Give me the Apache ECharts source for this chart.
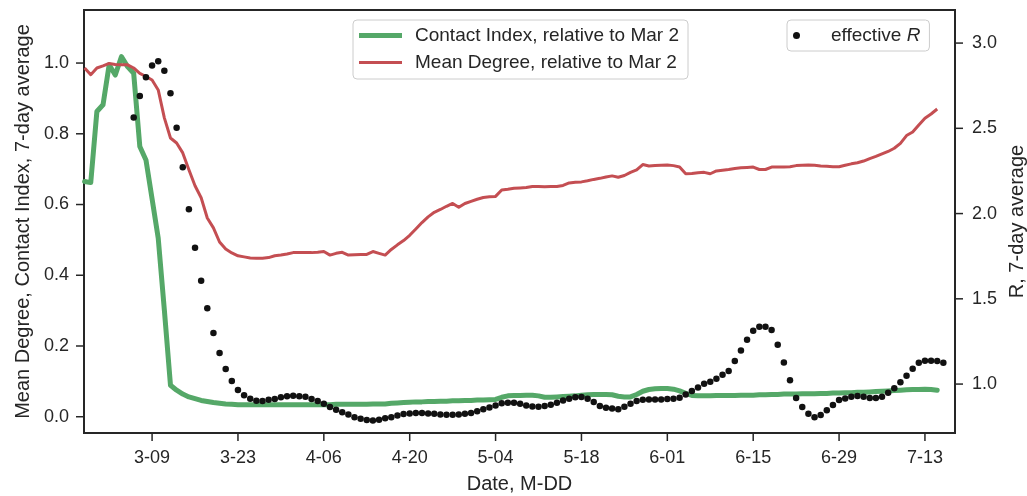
<!DOCTYPE html>
<html>
<head>
<meta charset="utf-8">
<script src="https://cdn.jsdelivr.net/npm/echarts@6/dist/echarts.min.js"></script>
<style>
  html, body { margin: 0; padding: 0; background: #fff; }
  #chart { width: 1027px; height: 496px; background: #fff; }
</style>
</head>
<body>
<div id="chart"></div>
<script>
// days are counted from Mar 9 (day 0)
var contactStart = -11
var contactIndex = [
  0.665, 0.662, 0.863, 0.882, 0.995, 0.966, 1.018, 0.990, 0.971, 0.764, 0.726,
  0.616, 0.505, 0.302, 0.089, 0.075, 0.064, 0.056, 0.051, 0.046, 0.043, 0.040,
  0.038, 0.036, 0.035, 0.034, 0.034, 0.034, 0.034, 0.034, 0.034, 0.034, 0.034,
  0.034, 0.034, 0.034, 0.034, 0.034, 0.034, 0.034, 0.034, 0.035, 0.035, 0.035,
  0.035, 0.035, 0.035, 0.036, 0.036, 0.036, 0.038, 0.039, 0.040, 0.041, 0.042,
  0.042, 0.043, 0.043, 0.044, 0.044, 0.045, 0.045, 0.046, 0.046, 0.047, 0.047,
  0.048, 0.049, 0.055, 0.059, 0.060, 0.060, 0.061, 0.061, 0.059, 0.055, 0.055,
  0.056, 0.057, 0.058, 0.059, 0.061, 0.062, 0.063, 0.063, 0.063, 0.062, 0.058,
  0.056, 0.056, 0.063, 0.072, 0.077, 0.079, 0.080, 0.080, 0.078, 0.073, 0.066,
  0.060, 0.059, 0.059, 0.059, 0.060, 0.060, 0.060, 0.060, 0.061, 0.061, 0.061,
  0.062, 0.062, 0.063, 0.063, 0.064, 0.064, 0.064, 0.065, 0.065, 0.065, 0.066,
  0.066, 0.067, 0.067, 0.068, 0.068, 0.069, 0.069, 0.070, 0.071, 0.072, 0.073,
  0.074, 0.075, 0.076, 0.077, 0.077, 0.078, 0.077, 0.075
]

var degreeStart = -11
var meanDegree = [
  0.986, 0.967, 0.986, 0.992, 0.999, 0.996, 0.995, 0.995, 0.986, 0.971, 0.962,
  0.952, 0.924, 0.845, 0.788, 0.774, 0.746, 0.698, 0.653, 0.619, 0.562, 0.534,
  0.494, 0.474, 0.463, 0.455, 0.452, 0.449, 0.448, 0.448, 0.450, 0.455, 0.457,
  0.460, 0.464, 0.464, 0.464, 0.464, 0.465, 0.467, 0.457, 0.462, 0.465, 0.457,
  0.458, 0.459, 0.459, 0.467, 0.462, 0.457, 0.473, 0.486, 0.498, 0.513, 0.531,
  0.549, 0.565, 0.578, 0.586, 0.595, 0.603, 0.592, 0.603, 0.609, 0.615, 0.620,
  0.622, 0.623, 0.641, 0.643, 0.646, 0.647, 0.648, 0.651, 0.651, 0.650, 0.651,
  0.651, 0.654, 0.661, 0.663, 0.664, 0.667, 0.671, 0.674, 0.678, 0.681, 0.677,
  0.682, 0.691, 0.698, 0.713, 0.709, 0.710, 0.711, 0.712, 0.710, 0.706, 0.687,
  0.688, 0.690, 0.691, 0.687, 0.695, 0.697, 0.699, 0.702, 0.704, 0.705, 0.706,
  0.699, 0.699, 0.706, 0.706, 0.706, 0.707, 0.710, 0.711, 0.712, 0.711, 0.709,
  0.708, 0.707, 0.707, 0.711, 0.715, 0.718, 0.723, 0.730, 0.736, 0.743, 0.750,
  0.759, 0.773, 0.795, 0.805, 0.825, 0.844, 0.856, 0.870
]

var rStart = -3
var effectiveR = [
  2.564, 2.689, 2.799, 2.869, 2.893, 2.838, 2.705, 2.503, 2.271, 2.026, 1.800,
  1.606, 1.444, 1.299, 1.182, 1.088, 1.018, 0.965, 0.934, 0.914, 0.902, 0.901,
  0.908, 0.912, 0.923, 0.929, 0.931, 0.929, 0.925, 0.913, 0.901, 0.884, 0.865,
  0.849, 0.834, 0.822, 0.806, 0.797, 0.789, 0.787, 0.791, 0.799, 0.806, 0.816,
  0.824, 0.828, 0.830, 0.830, 0.828, 0.826, 0.822, 0.820, 0.820, 0.822, 0.826,
  0.830, 0.840, 0.853, 0.863, 0.875, 0.887, 0.891, 0.891, 0.885, 0.875, 0.869,
  0.867, 0.871, 0.879, 0.891, 0.904, 0.914, 0.922, 0.924, 0.914, 0.895, 0.871,
  0.861, 0.857, 0.853, 0.867, 0.885, 0.900, 0.908, 0.910, 0.910, 0.910, 0.912,
  0.914, 0.920, 0.939, 0.959, 0.980, 1.002, 1.014, 1.031, 1.055, 1.076, 1.135,
  1.197, 1.260, 1.313, 1.336, 1.336, 1.317, 1.231, 1.127, 1.022, 0.918, 0.865,
  0.826, 0.805, 0.818, 0.846, 0.877, 0.906, 0.916, 0.926, 0.930, 0.926, 0.918,
  0.918, 0.926, 0.949, 0.975, 1.010, 1.049, 1.090, 1.125, 1.137, 1.137, 1.135,
  1.125
]

var dateTicks = [0, 14, 28, 42, 56, 70, 84, 98, 112, 126]
var dateLabels = ['3-09', '3-23', '4-06', '4-20', '5-04', '5-18', '6-01', '6-15', '6-29', '7-13']
var leftTicks = [0, 0.2, 0.4, 0.6, 0.8, 1.0]
var rightTicks = [1.0, 1.5, 2.0, 2.5, 3.0]

var xMin = -11.1, xMax = 130.9
var leftMin = -0.046, leftMax = 1.150
var rightMin = 0.713, rightMax = 3.194

function pairs(start, arr) {
  return arr.map(function(v, i) { return [start + i, v] })
}

var ink = '#262626'
var font = "'Liberation Sans', Arial, sans-serif"
// legend strokes: thick green, thinner red (empty moves keep the 43x6 box)
var thickIcon = 'path://M0,0.5 L43,0.5 L43,5.5 L0,5.5 Z'
var thinIcon = 'path://M0,0 M43,6 M0,1.5 L43,1.5 L43,4.5 L0,4.5 Z'

var chart = echarts.init(document.getElementById('chart'))
chart.setOption({
  animation: false,
  textStyle: { fontFamily: font, color: ink },
  grid: {
    left: 84, right: 72, top: 10, bottom: 63,
    outerBoundsMode: 'none',
    show: true, borderColor: ink, borderWidth: 2
  },
  legend: [{
    orient: 'vertical',
    left: 353, top: 20,
    padding: [6, 9, 7, 6],
    itemGap: 8,
    itemWidth: 43, itemHeight: 6,
    itemStyle: { borderWidth: 0 },
    borderColor: '#cccccc', borderWidth: 1, borderRadius: 4,
    backgroundColor: 'rgba(255,255,255,0.8)',
    textStyle: { fontSize: 19, color: ink, fontFamily: font, padding: [0, 0, 0, 8] },
    data: [
      { name: 'Contact Index, relative to Mar 2', icon: thickIcon },
      { name: 'Mean Degree, relative to Mar 2', icon: thinIcon }
    ]
  }, {
    left: 787, top: 20,
    padding: [6, 9, 6, 6],
    itemWidth: 41, itemHeight: 7,
    borderColor: '#cccccc', borderWidth: 1, borderRadius: 4,
    backgroundColor: 'rgba(255,255,255,0.8)',
    formatter: function() { return '{a|effective }{b|R}' },
    textStyle: {
      fontSize: 19, color: ink, fontFamily: font, padding: [0, 0, 0, 9],
      rich: {
        a: { fontSize: 19, color: ink, fontFamily: font },
        b: { fontSize: 19, color: ink, fontFamily: font, fontStyle: 'italic' }
      }
    },
    data: ['effective R']
  }],
  xAxis: {
    type: 'value',
    min: xMin, max: xMax,
    name: 'Date, M-DD',
    nameLocation: 'middle',
    nameGap: 41,
    nameTextStyle: { fontSize: 20, color: ink },
    axisLine: { onZero: false, lineStyle: { color: ink, width: 2 } },
    axisTick: { show: false },
    axisLabel: {
      fontSize: 18, color: ink, margin: 16,
      customValues: dateTicks,
      formatter: function(v) {
        var i = dateTicks.indexOf(v)
        return i >= 0 ? dateLabels[i] : ''
      }
    },
    splitLine: { show: false }
  },
  yAxis: [{
    type: 'value',
    position: 'left',
    min: leftMin, max: leftMax,
    name: 'Mean Degree, Contact Index, 7-day average',
    nameLocation: 'middle',
    nameRotate: 90,
    nameGap: 49,
    nameTextStyle: { fontSize: 20, color: ink },
    axisLine: { show: true, onZero: false, lineStyle: { color: ink, width: 2 } },
    axisTick: { show: false },
    axisLabel: {
      fontSize: 18, color: ink, margin: 15,
      customValues: leftTicks,
      formatter: function(v) { return v.toFixed(1) }
    },
    splitLine: { show: false }
  }, {
    type: 'value',
    position: 'right',
    min: rightMin, max: rightMax,
    name: 'R, 7-day average',
    nameLocation: 'middle',
    nameRotate: 90,
    nameGap: 51,
    nameTextStyle: { fontSize: 20, color: ink },
    axisLine: { show: true, onZero: false, lineStyle: { color: ink, width: 2 } },
    axisTick: { show: false },
    axisLabel: {
      fontSize: 18, color: ink, margin: 17,
      customValues: rightTicks,
      formatter: function(v) { return v.toFixed(1) }
    },
    splitLine: { show: false }
  }],
  series: [{
    name: 'Contact Index, relative to Mar 2',
    type: 'line',
    yAxisIndex: 0,
    data: pairs(contactStart, contactIndex),
    symbol: 'none',
    color: '#55a868',
    lineStyle: { width: 5, cap: 'round', join: 'round', color: '#55a868' },
    z: 2
  }, {
    name: 'Mean Degree, relative to Mar 2',
    type: 'line',
    yAxisIndex: 0,
    data: pairs(degreeStart, meanDegree),
    symbol: 'none',
    color: '#c44e52',
    lineStyle: { width: 3, join: 'round', color: '#c44e52' },
    z: 3
  }, {
    name: 'effective R',
    type: 'scatter',
    yAxisIndex: 1,
    data: pairs(rStart, effectiveR),
    symbolSize: 6.5,
    color: '#111111',
    itemStyle: { color: '#111111', opacity: 1 },
    z: 4
  }]
})

// outward tick marks, placed through the series' coordinate systems
// (series 0 uses the left axis, series 2 the right one)
function tickMarks() {
  var els = []
  var len = 8
  function px(seriesIndex, x, y) {
    return chart.convertToPixel({ seriesIndex: seriesIndex }, [x, y])
  }
  function seg(x1, y1, x2, y2) {
    els.push({
      type: 'line', z: 100, silent: true,
      shape: { x1: x1, y1: y1, x2: x2, y2: y2 },
      style: { stroke: ink, lineWidth: 1.5 }
    })
  }
  dateTicks.forEach(function(v) {
    var p = px(0, v, leftMin)
    seg(p[0], p[1], p[0], p[1] + len)
  })
  leftTicks.forEach(function(v) {
    var p = px(0, xMin, v)
    seg(p[0] - len, p[1], p[0], p[1])
  })
  rightTicks.forEach(function(v) {
    var p = px(2, xMax, v)
    seg(p[0], p[1], p[0] + len, p[1])
  })
  return els
}
try {
  chart.setOption({ graphic: { elements: tickMarks() } })
} catch (e) {
  console.error(e)
}
</script>
</body>
</html>
